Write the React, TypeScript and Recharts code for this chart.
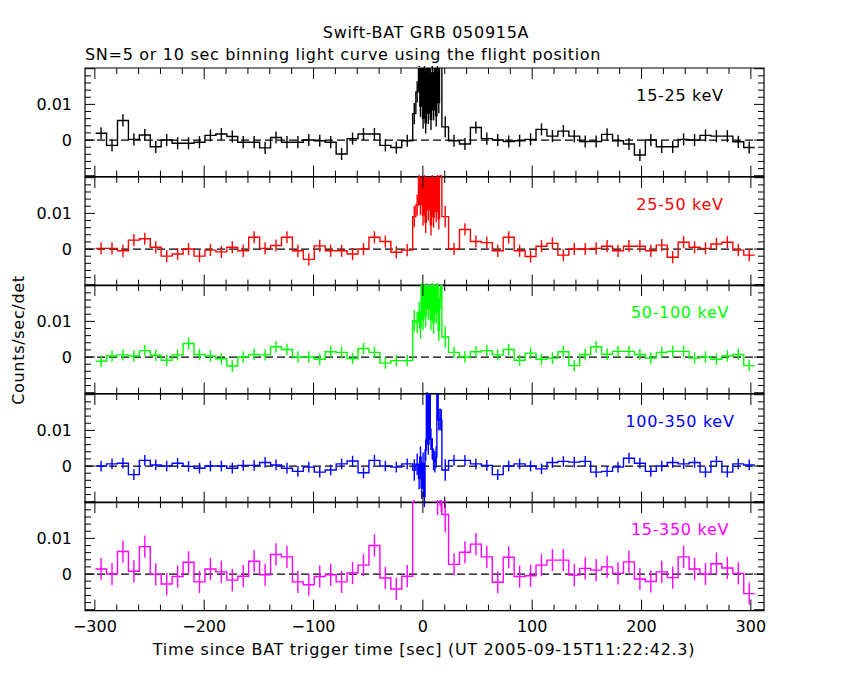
import React from "react";
import {
  ComposedChart, Line, XAxis, YAxis, ErrorBar, ReferenceLine, ReferenceArea,
} from "recharts";

// time bins (sec since trigger): 10 s bins before/after, SN=5 bins in the burst
const PRE_FIRST_EDGE = -299.3;
const PRE_BINS = 29;
const BURST_EDGES = [-9.3, -6.4, -4.0, -2.8, -1.6, -0.4, 0.8, 2.0, 3.2, 4.4, 5.6, 6.8, 8.0, 9.2, 10.4, 11.6, 12.8, 14.0, 15.2, 16.3, 17.4];
const POST_FIRST_EDGE = 23.5;
const POST_BINS = 28;
const BIN_WIDTH = 10;

const xTicks = Array.from({ length: 31 }, (_, i) => -300 + 20 * i);
const yTicks = [-0.01, -0.008, -0.006, -0.004, -0.002, 0, 0.002, 0.004, 0.006, 0.008, 0.01, 0.012, 0.014, 0.016, 0.018, 0.02];

// 15-25 keV
const pre1525 = [0.0019, -0.0015, 0.0055, 0.0002, 0.0014, -0.0019, 0, -0.0009, -0.0009, -0.0006, 0.0013, 0.0017, 0.001, -0.0006, -0.0006, -0.0022, 0.0007, -0.0006, -0.0006, 0, -0.0002, -0.0006, -0.0039, 0.0004, 0.0017, 0.0017, -0.0015, -0.0021, -0.0002];
const burst1525 = [0.0074, 0.0135, 0.0235, 0.0095, 0.028, 0.0062, 0.0215, 0.0048, 0.031, 0.0075, 0.0255, 0.0058, 0.0188, 0.0085, 0.027, 0.0068, 0.022, 0.0105, 0.0255, 0.026, 0.0037];
const post1525 = [-0.0002, -0.0011, 0.0035, 0.0004, 0, -0.0004, -0.0002, 0.0002, 0.003, 0.0011, 0.0025, 0.0011, -0.0004, -0.0004, 0.0016, -0.0002, -0.0011, -0.0042, 0, -0.0019, -0.0019, 0.0002, 0, 0.0013, 0.0011, 0.0011, -0.0005, -0.0021];

// 25-50 keV
const pre2550 = [0.0002, 0.0002, -0.0005, 0.0025, 0.0029, 0.0005, -0.002, -0.0014, 0, -0.002, -0.0003, -0.0008, 0.0005, -0.0005, 0.0033, 0.0002, 0.001, 0.0033, -0.0005, -0.0029, 0.0009, -0.0005, -0.0005, -0.0014, 0, 0.0033, 0.0021, -0.0009, -0.0003];
const burst2550 = [0.0091, 0.0123, 0.022, 0.0125, 0.026, 0.0095, 0.0215, 0.0075, 0.028, 0.011, 0.024, 0.0068, 0.02, 0.009, 0.025, 0.0105, 0.021, 0.0085, 0.0235, 0.023, 0.0091];
const post2550 = [0, 0.0055, 0.0021, 0.0018, -0.0005, 0.0033, -0.0005, -0.0021, 0.0008, 0.0016, -0.0017, 0, 0, 0.0002, 0.0008, -0.0005, 0.0008, 0.0008, -0.0005, 0.0011, -0.0023, 0.0019, 0.0005, 0.0002, 0.0014, 0.0019, -0.0003, -0.0017];

// 50-100 keV
const pre50100 = [-0.0012, 0.0003, 0.0006, 0.0003, 0.0018, 0.0005, -0.0009, 0.0006, 0.0038, 0.0007, 0.0003, -0.0005, -0.0025, 0, 0.0007, 0.0006, 0.0029, 0.0021, 0, 0, -0.0006, 0.0015, 0.0013, -0.0004, 0.0024, 0.0013, -0.0017, -0.001, -0.001];
const burst50100 = [0.0102, 0.0097, 0.0125, 0.0082, 0.022, 0.0105, 0.026, 0.0115, 0.0235, 0.0135, 0.028, 0.0105, 0.0215, 0.0095, 0.0245, 0.0125, 0.0205, 0.0075, 0.0165, 0.024, 0.0056];
const post50100 = [0.0013, 0, 0.0015, 0.0018, 0.0006, 0.0021, -0.0009, 0.0011, -0.0006, -0.0003, 0.0015, -0.0024, 0.0007, 0.0029, 0.0008, 0.0016, 0.0016, 0.0007, -0.0003, 0.0013, 0.0016, 0.0016, -0.0003, 0, -0.0006, 0.0003, 0.0007, -0.0024];

// 100-350 keV
const pre100350 = [0, 0.0006, 0.0008, -0.0024, 0.0016, 0.0003, 0, 0.0008, -0.0001, -0.0006, 0, 0, -0.0006, 0.0002, 0.0002, 0.001, 0.0003, -0.0006, -0.0015, -0.0003, -0.0017, -0.0011, 0.0006, 0.0014, -0.0019, 0.0016, 0, -0.0003, 0.0006];
const burst100350 = [-0.0011, 0.0005, -0.0035, 0.0025, -0.0062, 0.0008, -0.0085, 0.0045, 0.0235, 0.0062, 0.024, 0.0075, 0.0048, 0.0018, 0.0012, 0.0025, 0.024, 0.013, 0.0131, 0.0129, -0.0011];
const post100350 = [0.0016, 0.0016, 0.0006, 0.0002, -0.0024, 0, 0.0006, 0, -0.0008, 0.001, 0.0013, 0.0011, 0.0013, -0.0017, -0.0015, -0.0003, 0.0022, 0.0008, -0.0015, 0, 0.001, 0.0006, 0.001, -0.0017, 0.0013, -0.0017, 0.0006, 0.0003];

// 15-350 keV
const pre15350 = [0.0014, 0, 0.0063, 0.0008, 0.0077, -0.0001, -0.0028, -0.0007, 0.0033, -0.0022, 0.0014, 0.0006, -0.0017, -0.0006, 0.0036, -0.0002, 0.0055, 0.0048, -0.0022, -0.003, -0.0007, -0.0002, -0.0022, 0.0003, 0.0025, 0.008, -0.0011, -0.0042, -0.0006];
const burst15350 = [0.025, 0.034, 0.041, 0.038, 0.045, 0.036, 0.042, 0.033, 0.047, 0.039, 0.044, 0.031, 0.04, 0.035, 0.038, 0.029, 0.0215, 0.027, 0.024, 0.0225, 0.0167];
const post15350 = [0.0027, 0.0061, 0.0084, 0.0048, -0.0023, 0.0047, -0.0007, -0.0005, 0.0025, 0.0039, 0.0039, -0.0003, 0.0016, 0.0011, 0.002, 0.0002, 0.0034, -0.0014, -0.0021, 0.0006, -0.001, 0.0048, 0.0014, 0, 0.0029, 0.0017, 0.0002, -0.0055];

const bands = [
  { label: "15-25 keV", color: "#000000", pre: pre1525, burst: burst1525, post: post1525, err: 0.0017, burstErr: 0.003 },
  { label: "25-50 keV", color: "#ff0000", pre: pre2550, burst: burst2550, post: post2550, err: 0.0017, burstErr: 0.003 },
  { label: "50-100 keV", color: "#00ff00", pre: pre50100, burst: burst50100, post: post50100, err: 0.0016, burstErr: 0.003 },
  { label: "100-350 keV", color: "#0000ff", pre: pre100350, burst: burst100350, post: post100350, err: 0.0015, burstErr: 0.003 },
  { label: "15-350 keV", color: "#ff00ff", pre: pre15350, burst: burst15350, post: post15350, err: 0.0031, burstErr: 0.005 },
];

const X_MIN = -309;
const X_MAX = 312;
const Y_MIN = -0.01025;
const Y_MAX = 0.0202;

const PLOT_L = 85;
const PLOT_R = 764;
const PANEL_H = 108.6;
const FIRST_TOP = 68;
const TOP_PAD = 2;
const BOTTOM_PAD = 40;
const FONT = "'DejaVu Sans', sans-serif";
const SPACING = "0.7px";

const edges: number[] = [
  ...Array.from({ length: PRE_BINS }, (_, i) => PRE_FIRST_EDGE + BIN_WIDTH * i),
  ...BURST_EDGES,
  ...Array.from({ length: POST_BINS + 1 }, (_, i) => POST_FIRST_EDGE + BIN_WIDTH * i),
];

const fmt = (v: number) => (v < 0 ? `\u2212${-v}` : `${v}`);

const Panel = ({ band, top, last }: any) => {
  const vals = [...band.pre, ...band.burst, ...band.post];
  const steps = edges.map((t, i) => ({ t, y: vals[Math.min(i, vals.length - 1)] }));
  const bars = vals.map((y, i) => ({
    t: (edges[i] + edges[i + 1]) / 2,
    y,
    err: i >= PRE_BINS && i < PRE_BINS + band.burst.length ? band.burstErr : band.err,
  }));
  const pTop = TOP_PAD;
  const pBot = TOP_PAD + PANEL_H;

  const xTick = (p: any) => {
    const v = p.payload.value;
    const len = v % 100 === 0 ? 11 : 6;
    return (
      <g>
        <line x1={p.x} x2={p.x} y1={pTop} y2={pTop + len} stroke="#000" />
        <line x1={p.x} x2={p.x} y1={pBot} y2={pBot - len} stroke="#000" />
        {last && v % 100 === 0 && (
          <text x={p.x} y={pBot + 21} textAnchor="middle" fontSize={16} fill="#000">{fmt(v)}</text>
        )}
      </g>
    );
  };

  const yTick = (p: any) => {
    const v = p.payload.value;
    const major = Math.abs(Math.round(v * 100) - v * 100) < 1e-6;
    const len = major ? 10 : 6;
    return (
      <g>
        <line x1={PLOT_L} x2={PLOT_L + len} y1={p.y} y2={p.y} stroke="#000" />
        <line x1={PLOT_R} x2={PLOT_R - len} y1={p.y} y2={p.y} stroke="#000" />
        {(v === 0 || v === 0.01) && (
          <text x={PLOT_L - 13} y={p.y + 6} textAnchor="end" fontSize={16} fill="#000">{v === 0 ? "0" : "0.01"}</text>
        )}
      </g>
    );
  };

  return (
    <div style={{ position: "absolute", left: 0, top: top - TOP_PAD }}>
      <ComposedChart
        width={850}
        height={TOP_PAD + PANEL_H + BOTTOM_PAD}
        margin={{ top: TOP_PAD, right: 850 - PLOT_R, bottom: 0, left: 0 }}
      >
        <XAxis
          type="number" dataKey="t" domain={[X_MIN, X_MAX]} allowDataOverflow
          ticks={xTicks} interval={0} tick={xTick} tickLine={false} axisLine={false}
          height={BOTTOM_PAD}
        />
        <YAxis
          type="number" domain={[Y_MIN, Y_MAX]} allowDataOverflow
          ticks={yTicks} interval={0} tick={yTick} tickLine={false} axisLine={false}
          width={PLOT_L}
        />
        <ReferenceLine y={0} stroke="#000" strokeDasharray="8 4" strokeWidth={1.2} />
        <Line
          data={steps} dataKey="y" type="stepAfter" stroke={band.color}
          strokeWidth={1.4} dot={false} isAnimationActive={false}
        />
        <Line
          data={bars} dataKey="y" stroke="none" dot={false} isAnimationActive={false}
        >
          <ErrorBar dataKey="err" direction="y" width={0} stroke={band.color} strokeWidth={1.4} />
        </Line>
        <ReferenceArea x1={X_MIN} x2={X_MAX} y1={Y_MIN} y2={Y_MAX} fill="none" stroke="#000" strokeWidth={1.2} fillOpacity={0} />
      </ComposedChart>
      <div
        style={{
          position: "absolute", left: 600, width: 160, top: TOP_PAD + 19, textAlign: "center",
          color: band.color, fontSize: 16, fontFamily: FONT, lineHeight: "18px", letterSpacing: SPACING,
        }}
      >
        {band.label}
      </div>
    </div>
  );
};

const App = () => (
  <div style={{ position: "absolute", left: 0, top: 0, width: 850, height: 680, background: "#fff", fontFamily: FONT }}>
    <svg width={850} height={680} style={{ position: "absolute", left: 0, top: 0, letterSpacing: SPACING }}>
      <text x={426} y={38} textAnchor="middle" fontSize={16} fill="#000">Swift-BAT GRB 050915A</text>
      <text x={85} y={60} fontSize={16} fill="#000">SN=5 or 10 sec binning light curve using the flight position</text>
      <text x={424} y={655} textAnchor="middle" fontSize={16} fill="#000">
        Time since BAT trigger time [sec] (UT 2005-09-15T11:22:42.3)
      </text>
      <text x={24} y={340} textAnchor="middle" fontSize={16} fill="#000" transform="rotate(-90 24 340)">Counts/sec/det</text>
    </svg>
    {bands.map((b, i) => (
      <Panel key={b.label} band={b} top={FIRST_TOP + PANEL_H * i} last={i === bands.length - 1} />
    ))}
  </div>
);

export default App;
